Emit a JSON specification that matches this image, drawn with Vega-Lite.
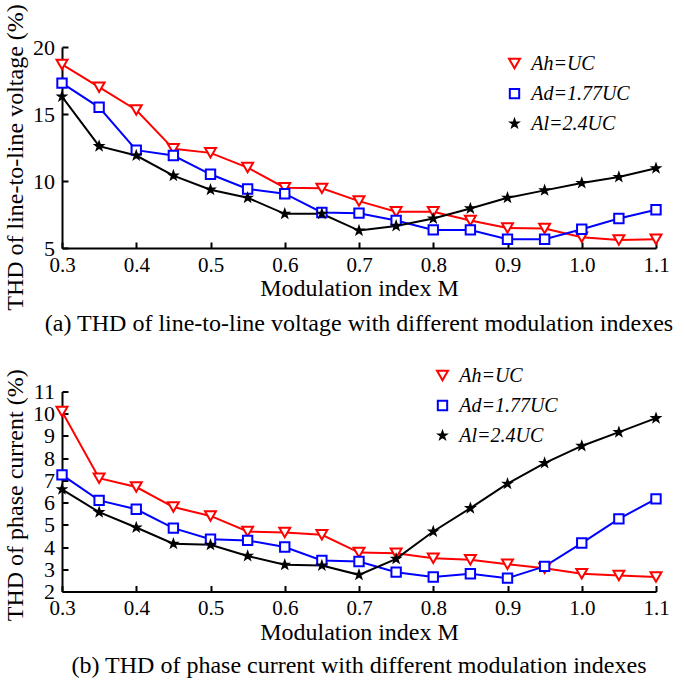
{
  "$schema": "https://vega.github.io/schema/vega-lite/v6.json",
  "padding": {"top": 3, "left": 3, "right": 5, "bottom": 3},
  "spacing": 28.5,
  "resolve": {"scale": {"stroke": "independent", "shape": "independent", "fill": "independent", "size": "independent"}, "legend": {"stroke": "independent"}},
  "config": {
    "font": "Liberation Serif",
    "view": {"stroke": null},
    "axis": {"grid": false, "domainColor": "black", "domainWidth": 2, "tickColor": "black", "tickWidth": 2, "tickSize": -6, "labelColor": "black", "labelFont": "Liberation Serif", "labelFlush": false, "labelOverlap": false, "titleFont": "Liberation Serif", "titleFontSize": 24, "titleFontWeight": "normal", "titleColor": "black"},
    "axisX": {"labelFontSize": 21, "labelPadding": 12, "titlePadding": 1.5},
    "axisY": {"labelFontSize": 22, "labelPadding": 13.5, "titlePadding": 5},
    "legend": {"labelFont": "Liberation Serif", "labelFontSize": 20, "labelFontStyle": "italic", "labelColor": "black", "rowPadding": 10, "labelOffset": 6.7, "padding": 0, "symbolSize": 400},
    "title": {"font": "Liberation Serif", "fontSize": 24, "fontWeight": "normal", "color": "black"}
  },
  "datasets": {
    "v": [
      {"M":0.3,"s":"Ah","y":18.7},{"M":0.35,"s":"Ah","y":17.0},{"M":0.4,"s":"Ah","y":15.3},{"M":0.45,"s":"Ah","y":12.4},{"M":0.5,"s":"Ah","y":12.1},{"M":0.55,"s":"Ah","y":11.0},{"M":0.6,"s":"Ah","y":9.5},{"M":0.65,"s":"Ah","y":9.45},{"M":0.7,"s":"Ah","y":8.5},{"M":0.75,"s":"Ah","y":7.7},{"M":0.8,"s":"Ah","y":7.7},{"M":0.85,"s":"Ah","y":7.05},{"M":0.9,"s":"Ah","y":6.5},{"M":0.95,"s":"Ah","y":6.45},{"M":1.0,"s":"Ah","y":5.8},{"M":1.05,"s":"Ah","y":5.6},{"M":1.1,"s":"Ah","y":5.65},
      {"M":0.3,"s":"Ad","y":17.3},{"M":0.35,"s":"Ad","y":15.5},{"M":0.4,"s":"Ad","y":12.3},{"M":0.45,"s":"Ad","y":11.9},{"M":0.5,"s":"Ad","y":10.5},{"M":0.55,"s":"Ad","y":9.4},{"M":0.6,"s":"Ad","y":9.05},{"M":0.65,"s":"Ad","y":7.65},{"M":0.7,"s":"Ad","y":7.6},{"M":0.75,"s":"Ad","y":7.05},{"M":0.8,"s":"Ad","y":6.35},{"M":0.85,"s":"Ad","y":6.35},{"M":0.9,"s":"Ad","y":5.65},{"M":0.95,"s":"Ad","y":5.65},{"M":1.0,"s":"Ad","y":6.4},{"M":1.05,"s":"Ad","y":7.2},{"M":1.1,"s":"Ad","y":7.85},
      {"M":0.3,"s":"Al","y":16.3},{"M":0.35,"s":"Al","y":12.6},{"M":0.4,"s":"Al","y":11.9},{"M":0.45,"s":"Al","y":10.4},{"M":0.5,"s":"Al","y":9.35},{"M":0.55,"s":"Al","y":8.75},{"M":0.6,"s":"Al","y":7.55},{"M":0.65,"s":"Al","y":7.55},{"M":0.7,"s":"Al","y":6.3},{"M":0.75,"s":"Al","y":6.65},{"M":0.8,"s":"Al","y":7.2},{"M":0.85,"s":"Al","y":7.95},{"M":0.9,"s":"Al","y":8.75},{"M":0.95,"s":"Al","y":9.3},{"M":1.0,"s":"Al","y":9.85},{"M":1.05,"s":"Al","y":10.3},{"M":1.1,"s":"Al","y":10.95}
    ],
    "i": [
      {"M":0.3,"s":"Ah","y":10.1},{"M":0.35,"s":"Ah","y":7.1},{"M":0.4,"s":"Ah","y":6.7},{"M":0.45,"s":"Ah","y":5.8},{"M":0.5,"s":"Ah","y":5.4},{"M":0.55,"s":"Ah","y":4.7},{"M":0.6,"s":"Ah","y":4.65},{"M":0.65,"s":"Ah","y":4.55},{"M":0.7,"s":"Ah","y":3.75},{"M":0.75,"s":"Ah","y":3.72},{"M":0.8,"s":"Ah","y":3.5},{"M":0.85,"s":"Ah","y":3.43},{"M":0.9,"s":"Ah","y":3.23},{"M":0.95,"s":"Ah","y":3.05},{"M":1.0,"s":"Ah","y":2.8},{"M":1.05,"s":"Ah","y":2.72},{"M":1.1,"s":"Ah","y":2.65},
      {"M":0.3,"s":"Ad","y":7.25},{"M":0.35,"s":"Ad","y":6.1},{"M":0.4,"s":"Ad","y":5.7},{"M":0.45,"s":"Ad","y":4.85},{"M":0.5,"s":"Ad","y":4.35},{"M":0.55,"s":"Ad","y":4.3},{"M":0.6,"s":"Ad","y":4.0},{"M":0.65,"s":"Ad","y":3.4},{"M":0.7,"s":"Ad","y":3.35},{"M":0.75,"s":"Ad","y":2.87},{"M":0.8,"s":"Ad","y":2.65},{"M":0.85,"s":"Ad","y":2.8},{"M":0.9,"s":"Ad","y":2.6},{"M":0.95,"s":"Ad","y":3.13},{"M":1.0,"s":"Ad","y":4.18},{"M":1.05,"s":"Ad","y":5.27},{"M":1.1,"s":"Ad","y":6.17},
      {"M":0.3,"s":"Al","y":6.6},{"M":0.35,"s":"Al","y":5.57},{"M":0.4,"s":"Al","y":4.88},{"M":0.45,"s":"Al","y":4.15},{"M":0.5,"s":"Al","y":4.1},{"M":0.55,"s":"Al","y":3.6},{"M":0.6,"s":"Al","y":3.2},{"M":0.65,"s":"Al","y":3.17},{"M":0.7,"s":"Al","y":2.75},{"M":0.75,"s":"Al","y":3.47},{"M":0.8,"s":"Al","y":4.7},{"M":0.85,"s":"Al","y":5.75},{"M":0.9,"s":"Al","y":6.85},{"M":0.95,"s":"Al","y":7.78},{"M":1.0,"s":"Al","y":8.55},{"M":1.05,"s":"Al","y":9.17},{"M":1.1,"s":"Al","y":9.8}
    ]
  },
  "vconcat": [
    {
      "width": 594, "height": 201,
      "data": {"name": "v"},
      "title": {"text": "(a) THD of line-to-line voltage with different modulation indexes", "orient": "bottom", "anchor": "middle", "offset": 2.2},
      "encoding": {
        "x": {"field": "M", "type": "quantitative", "scale": {"domain": [0.3, 1.1], "nice": false, "zero": false}, "axis": {"values": [0.3,0.4,0.5,0.6,0.7,0.8,0.9,1.0,1.1], "format": ".1f", "title": "Modulation index M"}},
        "y": {"field": "y", "type": "quantitative", "scale": {"domain": [5, 20], "nice": false, "zero": false}, "axis": {"values": [5,10,15,20], "title": "THD of line-to-line voltage (%)", "titleY": 110}},
        "stroke": {"field": "s", "type": "nominal", "scale": {"domain": ["Ah","Ad","Al"], "range": ["#ff0000","#0000ff","#000000"]},
          "legend": {"title": null, "orient": "none", "legendX": 442.5, "legendY": 6.6,
            "labelExpr": "datum.value == 'Ah' ? 'Ah=UC' : datum.value == 'Ad' ? 'Ad=1.77UC' : 'Al=2.4UC'",
            "encode": {"symbols": {"update": {
              "shape": {"signal": "datum.value == 'Ah' ? 'M-1,0L-0.3,0M0.3,0L1,0M-0.55,-0.42L0.55,-0.42L0,0.52Z' : datum.value == 'Ad' ? 'M-1,0L-0.38,0M0.38,0L1,0M-0.38,-0.38L0.38,-0.38L0.38,0.38L-0.38,0.38Z' : 'M-1,0L1,0M0,-0.6L0.141,-0.194L0.571,-0.185L0.228,0.074L0.353,0.485L0,0.24L-0.353,0.485L-0.228,0.074L-0.571,-0.185L-0.141,-0.194Z'"},
              "size": {"value": 400},
              "fill": {"signal": "datum.value == 'Al' ? 'black' : 'white'"},
              "stroke": {"signal": "datum.value == 'Ah' ? '#ff0000' : datum.value == 'Ad' ? '#0000ff' : '#000000'"},
              "strokeWidth": {"value": 2}
            }}}}}
      },
      "layer": [
        {"mark": {"type": "line", "strokeWidth": 2}},
        {"mark": {"type": "point", "strokeWidth": 2, "opacity": 1},
         "encoding": {
           "shape": {"field": "s", "type": "nominal", "scale": {"domain": ["Ah","Ad","Al"], "range": ["triangle-down","square","M0,-1L0.235,-0.324L0.951,-0.309L0.38,0.124L0.588,0.809L0,0.4L-0.588,0.809L-0.38,0.124L-0.951,-0.309L-0.235,-0.324Z"]}, "legend": null},
           "fill": {"field": "s", "type": "nominal", "scale": {"domain": ["Ah","Ad","Al"], "range": ["white","white","black"]}, "legend": null},
           "size": {"field": "s", "type": "nominal", "scale": {"domain": ["Ah","Ad","Al"], "range": [120, 56, 95]}, "legend": null}
         }}
      ]
    },
    {
      "width": 594, "height": 200,
      "data": {"name": "i"},
      "title": {"text": "(b) THD of phase current with different modulation indexes", "orient": "bottom", "anchor": "middle", "offset": 9.7},
      "encoding": {
        "x": {"field": "M", "type": "quantitative", "scale": {"domain": [0.3, 1.1], "nice": false, "zero": false}, "axis": {"values": [0.3,0.4,0.5,0.6,0.7,0.8,0.9,1.0,1.1], "format": ".1f", "title": "Modulation index M"}},
        "y": {"field": "y", "type": "quantitative", "scale": {"domain": [2, 11], "nice": false, "zero": false}, "axis": {"values": [2,3,4,5,6,7,8,9,10,11], "title": "THD of phase current (%)", "titleY": 103.3}},
        "stroke": {"field": "s", "type": "nominal", "scale": {"domain": ["Ah","Ad","Al"], "range": ["#ff0000","#0000ff","#000000"]},
          "legend": {"title": null, "orient": "none", "legendX": 370.5, "legendY": -26,
            "labelExpr": "datum.value == 'Ah' ? 'Ah=UC' : datum.value == 'Ad' ? 'Ad=1.77UC' : 'Al=2.4UC'",
            "encode": {"symbols": {"update": {
              "shape": {"signal": "datum.value == 'Ah' ? 'M-1,0L-0.3,0M0.3,0L1,0M-0.55,-0.42L0.55,-0.42L0,0.52Z' : datum.value == 'Ad' ? 'M-1,0L-0.38,0M0.38,0L1,0M-0.38,-0.38L0.38,-0.38L0.38,0.38L-0.38,0.38Z' : 'M-1,0L1,0M0,-0.6L0.141,-0.194L0.571,-0.185L0.228,0.074L0.353,0.485L0,0.24L-0.353,0.485L-0.228,0.074L-0.571,-0.185L-0.141,-0.194Z'"},
              "size": {"value": 400},
              "fill": {"signal": "datum.value == 'Al' ? 'black' : 'white'"},
              "stroke": {"signal": "datum.value == 'Ah' ? '#ff0000' : datum.value == 'Ad' ? '#0000ff' : '#000000'"},
              "strokeWidth": {"value": 2}
            }}}}}
      },
      "layer": [
        {"mark": {"type": "line", "strokeWidth": 2}},
        {"mark": {"type": "point", "strokeWidth": 2, "opacity": 1},
         "encoding": {
           "shape": {"field": "s", "type": "nominal", "scale": {"domain": ["Ah","Ad","Al"], "range": ["triangle-down","square","M0,-1L0.235,-0.324L0.951,-0.309L0.38,0.124L0.588,0.809L0,0.4L-0.588,0.809L-0.38,0.124L-0.951,-0.309L-0.235,-0.324Z"]}, "legend": null},
           "fill": {"field": "s", "type": "nominal", "scale": {"domain": ["Ah","Ad","Al"], "range": ["white","white","black"]}, "legend": null},
           "size": {"field": "s", "type": "nominal", "scale": {"domain": ["Ah","Ad","Al"], "range": [120, 56, 95]}, "legend": null}
         }}
      ]
    }
  ]
}
